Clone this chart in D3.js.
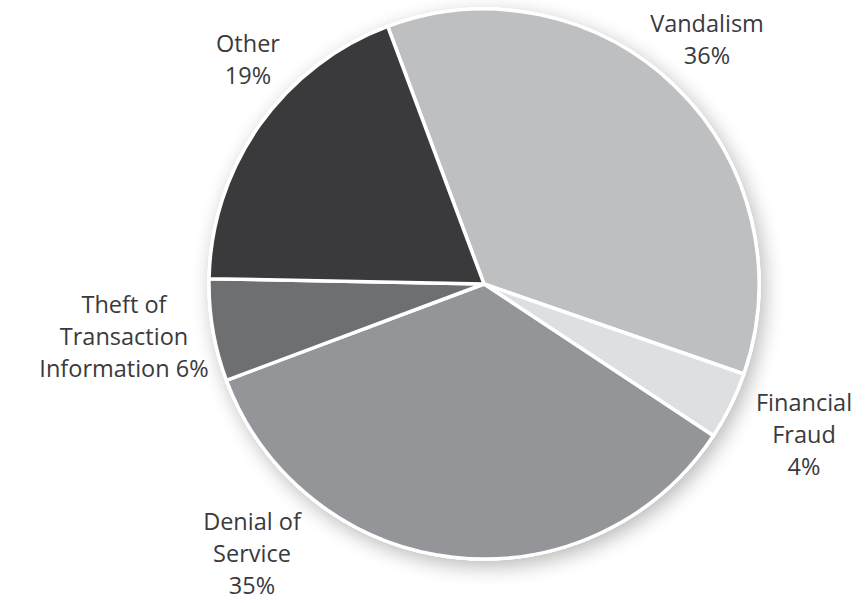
<!DOCTYPE html>
<html>
<head>
<meta charset="utf-8">
<script src="https://cdn.jsdelivr.net/npm/d3@7/dist/d3.min.js"></script>
<style>
  html, body { margin: 0; padding: 0; background: #ffffff; }
  svg { display: block; }
  text { font-family: "Open Sans", "Noto Sans", sans-serif; fill: #3a3a3c; }
</style>
</head>
<body>
<script>
// Data
const categories = ["Vandalism", "Financial Fraud", "Denial of Service", "Theft of Transaction Information", "Other"];
const values = [36, 4, 35, 6, 19];
const colors = ["#bdbfc1", "#dedfe1", "#939598", "#6e6f71", "#3a3a3c"];
const labelLines = [
  ["Vandalism", "36%"],
  ["Financial", "Fraud", "4%"],
  ["Denial of", "Service", "35%"],
  ["Theft of", "Transaction", "Information 6%"],
  ["Other", "19%"]
];

const W = 865, H = 603;
const cx = 484, cy = 284, R = 275;

const svg = d3.select("body").append("svg").attr("width", W).attr("height", H);

const defs = svg.append("defs");
const f = defs.append("filter").attr("id", "shadow")
  .attr("x", "-20%").attr("y", "-20%").attr("width", "140%").attr("height", "140%");
f.append("feGaussianBlur").attr("in", "SourceAlpha").attr("stdDeviation", 10).attr("result", "b");
f.append("feOffset").attr("in", "b").attr("dx", 4).attr("dy", 6).attr("result", "o");
f.append("feComponentTransfer").attr("in", "o").attr("result", "s")
  .append("feFuncA").attr("type", "linear").attr("slope", 0.28);
const m = f.append("feMerge");
m.append("feMergeNode").attr("in", "s");
m.append("feMergeNode").attr("in", "SourceGraphic");

const pie = d3.pie().sort(null).value(d => d)
  .startAngle(-20.5 * Math.PI / 180)
  .endAngle((360 - 20.5) * Math.PI / 180);
const arcs = pie(values);
const arc = d3.arc().innerRadius(0).outerRadius(R);

const g = svg.append("g").attr("transform", `translate(${cx},${cy})`);

// shadow base
g.append("circle").attr("r", R + 1.5).attr("fill", "#ffffff").attr("filter", "url(#shadow)");

g.selectAll("path.slice")
  .data(arcs)
  .join("path")
  .attr("class", "slice")
  .attr("d", arc)
  .attr("fill", (d, i) => colors[i])
  .attr("stroke", "#ffffff")
  .attr("stroke-width", 3.5)
  .attr("stroke-linejoin", "round");

// Labels: positions (first baseline, centre x) for each category
const labelPos = [
  { x: 707, y: 32 },
  { x: 804, y: 411 },
  { x: 252, y: 530 },
  { x: 124, y: 313 },
  { x: 248, y: 52 }
];
const lineH = 32;

labelLines.forEach((lines, i) => {
  const t = svg.append("text")
    .attr("x", labelPos[i].x)
    .attr("y", labelPos[i].y)
    .attr("text-anchor", "middle")
    .attr("font-size", 23.5)
    .attr("font-weight", 500);
  lines.forEach((ln, j) => {
    t.append("tspan").attr("x", labelPos[i].x).attr("y", labelPos[i].y + j * lineH).text(ln);
  });
});
</script>
</body>
</html>
